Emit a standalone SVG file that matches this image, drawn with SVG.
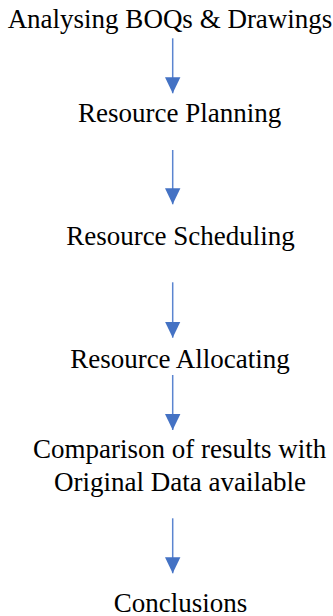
<svg xmlns="http://www.w3.org/2000/svg" width="333" height="616" viewBox="0 0 333 616">
<defs>
  <marker id="ah" markerUnits="userSpaceOnUse" markerWidth="16" markerHeight="16" viewBox="0 0 16 16" refX="16" refY="8" orient="auto">
    <path d="M0,0.3 L16,8 L0,15.7 Z" fill="#4472c4"/>
  </marker>
</defs>
<rect width="333" height="616" fill="#fff"/>
<g id="n1"><text style="font-family:'Liberation Serif','Times New Roman',serif;font-size:27px" text-anchor="middle" x="170" y="28">Analysing BOQs &amp; Drawings</text></g>
<g id="n2"><text style="font-family:'Liberation Serif','Times New Roman',serif;font-size:27px" text-anchor="middle" x="179.7" y="122">Resource Planning</text></g>
<g id="n3"><text style="font-family:'Liberation Serif','Times New Roman',serif;font-size:27px" text-anchor="middle" x="180.5" y="245">Resource Scheduling</text></g>
<g id="n4"><text style="font-family:'Liberation Serif','Times New Roman',serif;font-size:27px" text-anchor="middle" x="180" y="368">Resource Allocating</text></g>
<g id="n5"><text style="font-family:'Liberation Serif','Times New Roman',serif;font-size:27px" text-anchor="middle" x="179.7" y="458.3">Comparison of results with</text><text style="font-family:'Liberation Serif','Times New Roman',serif;font-size:27px" text-anchor="middle" x="180" y="490.7">Original Data available</text></g>
<g id="n6"><text style="font-family:'Liberation Serif','Times New Roman',serif;font-size:27px" text-anchor="middle" x="180.5" y="611.5">Conclusions</text></g>
<g id="connectors" stroke="#5b85d0" stroke-width="1.5">
  <line x1="172.7" y1="38.3" x2="172.7" y2="93.3" marker-end="url(#ah)"/>
  <line x1="172.7" y1="150" x2="172.7" y2="204.3" marker-end="url(#ah)"/>
  <line x1="172.7" y1="282.3" x2="172.7" y2="337.7" marker-end="url(#ah)"/>
  <line x1="172.7" y1="375" x2="172.7" y2="430" marker-end="url(#ah)"/>
  <line x1="172.7" y1="518.3" x2="172.7" y2="573.3" marker-end="url(#ah)"/>
</g>
</svg>
